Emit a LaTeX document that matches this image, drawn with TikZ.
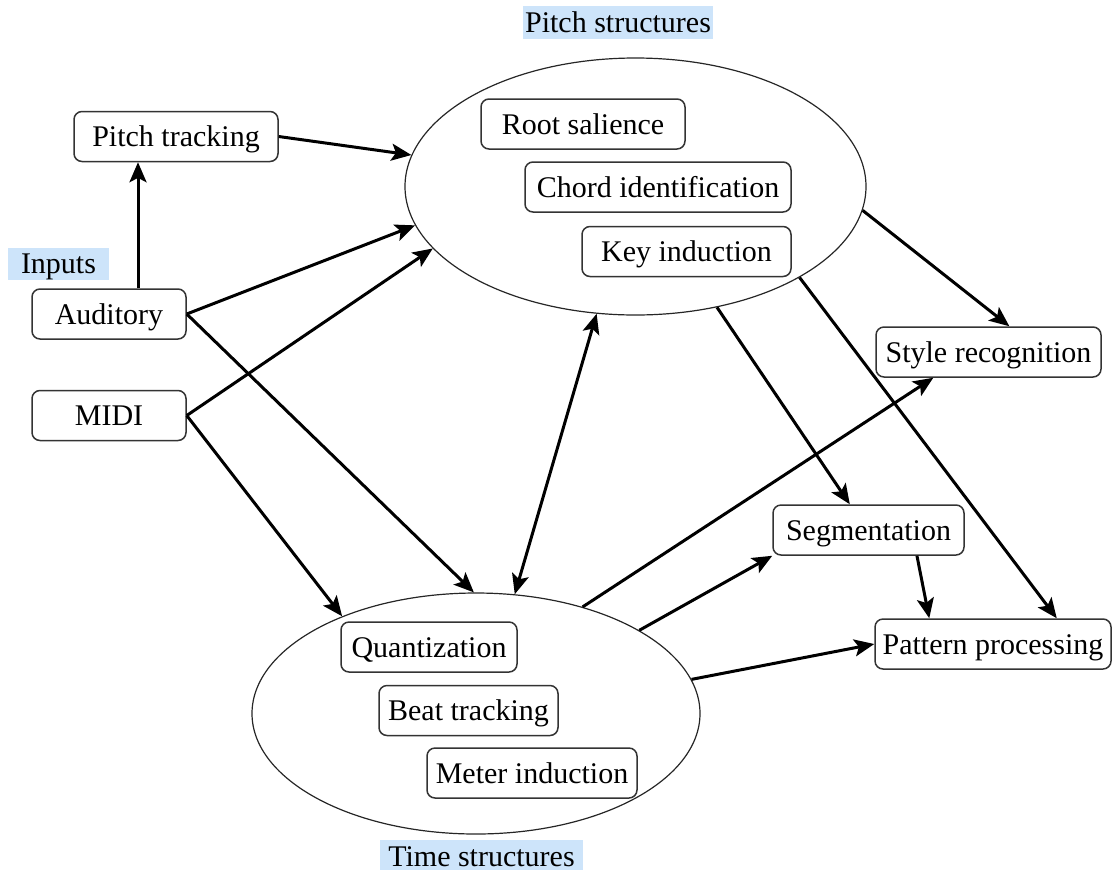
\documentclass[tikz,border=0pt]{standalone}
\usepackage{fontspec}
\setmainfont{Liberation Serif}
\usetikzlibrary{shapes.geometric,arrows.meta}

\definecolor{tagblue}{RGB}{205,228,250}

\tikzset{
  box/.style={draw=black!80, line width=0.75pt, rounded corners=4pt,
              minimum height=25pt, inner sep=0pt, align=center,
              text height=13pt, text depth=3pt,
              font=\fontsize{15}{18}\selectfont},
  tag/.style={fill=tagblue, inner sep=0pt, text height=13pt, text depth=3pt,
              font=\fontsize{15}{18}\selectfont},
  structure/.style={ellipse, draw=black!85, line width=0.6pt, inner sep=0pt},
  arr/.style={-{Stealth[length=10pt,width=8.5pt,inset=2.2pt]}, line width=1.5pt},
  arrboth/.style={{Stealth[length=10pt,width=8.5pt,inset=2.2pt]}-{Stealth[length=10pt,width=8.5pt,inset=2.2pt]},
                  line width=1.5pt}
}

\begin{document}
\begin{tikzpicture}[x=0.5pt, y=-0.5pt]
  \useasboundingbox (0,0) rectangle (1112,873);

  % group labels
  \node[tag, minimum width=95pt, minimum height=16.5pt] (pitchlbl) at (618,22.5) {Pitch structures};
  \node[tag, minimum width=50.5pt, minimum height=12.5pt] (inputlbl) at (58.5,263.5) {Inputs};
  \node[tag, minimum width=101.5pt, minimum height=14pt, text depth=2pt] (timelbl) at (481.5,855) {Time structures};

  % the two groups
  \node[structure, minimum width=230.5pt, minimum height=128.5pt] (pitch) at (635.5,186.5) {};
  \node[structure, minimum width=224pt, minimum height=120.5pt] (time) at (476,713.5) {};

  % inputs
  \node[box, minimum width=102pt] (ptrack) at (176,136.5) {Pitch tracking};
  \node[box, minimum width=77pt] (aud) at (109,314) {Auditory};
  \node[box, minimum width=77pt] (midi) at (109,415.5) {MIDI};

  % pitch structures
  \node[box, minimum width=102pt] (root) at (583,124) {Root salience};
  \node[box, minimum width=133pt] (chord) at (658,187) {Chord identification};
  \node[box, minimum width=104.5pt] (key) at (686.5,251.5) {Key induction};

  % time structures
  \node[box, minimum width=88pt] (quant) at (429,647) {Quantization};
  \node[box, minimum width=89.5pt] (beat) at (468.5,710.5) {Beat tracking};
  \node[box, minimum width=105pt] (meter) at (532,773) {Meter induction};

  % outputs
  \node[box, minimum width=112.5pt] (sty) at (988.5,352) {Style recognition};
  \node[box, minimum width=95.5pt] (seg) at (868.5,530) {Segmentation};
  \node[box, minimum width=118pt] (pat) at (993,644) {Pattern processing};

  % connectors
  \draw[arr] ([xshift=14.5pt]aud.north) -- ([xshift=14.5pt]aud.north |- ptrack.south);
  \draw[arr] (ptrack.east) -- (pitch.172.5);
  \draw[arr] (aud.east) -- (pitch.190.7);
  \draw[arr] (midi.east) -- (pitch.197.7);
  \draw[arr] (aud.east) -- (time.91.9);
  \draw[arr] (midi.east) -- (time.144.5);
  \draw[arrboth] (time.72) -- (pitch.253.5);
  \draw[arr] (pitch.-6.6) -- (sty.51);
  \draw[arr] (pitch.-56.6) -- (seg.126);
  \draw[arr] (pitch.-29.6) -- (pat.22);
  \draw[arr] (time.45.9) -- (sty.205);
  \draw[arr] (time.27.8) -- (seg.south west);
  \draw[arr] (seg.-28) -- (pat.158);
  \draw[arr] (time.9.4) -- (pat.west);
\end{tikzpicture}
\end{document}
